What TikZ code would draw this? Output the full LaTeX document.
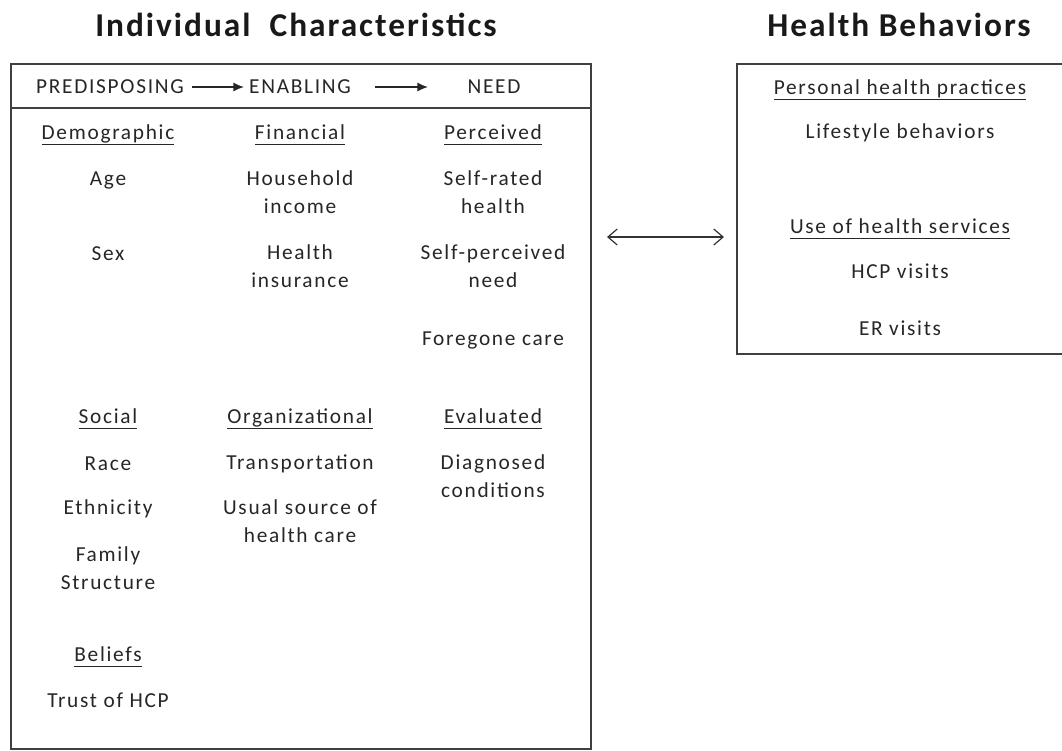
\documentclass[tikz,border=0pt]{standalone}
\usepackage{fontspec}
\setmainfont{Carlito}
\newfontfamily\bodyfont{Carlito}[LetterSpace=8]
\newfontfamily\titlefont{Carlito}[LetterSpace=6]
\newcommand\ulx[1]{\underline{\smash{#1}\vphantom{Ag}}}
\usetikzlibrary{arrows.meta,calc}
\begin{document}
\begin{tikzpicture}[x=0.75pt,y=-0.75pt,
  txt/.style={font=\bodyfont\fontsize{16}{21}\selectfont, text=black!85, align=center, inner sep=0pt},
  hd/.style={txt, yshift=-2.5pt},
  ttl/.style={font=\titlefont\bfseries\fontsize{25}{28}\selectfont, text=black!90, inner sep=0pt},
  boxline/.style={draw=black!75, line width=1.4pt},
  hdrarrow/.style={-{Latex[length=8pt,width=7pt]}, line width=1.2pt, black!85},
  dblarrow/.style={{Straight Barb[length=7pt,width=12pt]}-{Straight Barb[length=7pt,width=12pt]}, line width=0.9pt, black!80}]
\useasboundingbox (0,0) rectangle (1062,750);
% titles
\node[ttl] (t1) at (296,25) {Individual\ \ Characteristics};
\node[ttl] (t2) at (899,25) {Health Behaviors};
% boxes
\node[boxline, minimum width=580*0.75pt, minimum height=685*0.75pt, inner sep=0pt, anchor=north west] (lbox) at (10,63) {};
\node[boxline, minimum width=330*0.75pt, minimum height=290*0.75pt, inner sep=0pt, anchor=north west] (rbox) at (736,63) {};
\coordinate (hl) at (10,108);
\coordinate (hr) at (590,108);
\draw[draw=black!75, line width=1.2pt] (hl) -- (hr);
% header
\node[txt] (pre) at (110,87) {PREDISPOSING};
\node[txt] (ena) at (300,87) {ENABLING};
\node[txt] (need) at (494,87) {NEED};
\coordinate (a1s) at (192,87);
\coordinate (a1e) at (244,87);
\draw[hdrarrow] (a1s) -- (a1e);
\coordinate (a2s) at (375,87);
\coordinate (a2e) at (428,87);
\draw[hdrarrow] (a2s) -- (a2e);
% column 1
\node[hd] (demo) at (108,132) {\ulx{Demographic}};
\node[txt] (age) at (108,180) {Age};
\node[txt] (sex) at (108,254) {Sex};
\node[hd] (soc) at (108,416) {\ulx{Social}};
\node[txt] (race) at (108,464) {Race};
\node[txt] (eth) at (108,509) {Ethnicity};
\node[txt, anchor=north] (fam) at (108,546) {Family\\Structure};
\node[hd] (bel) at (108,654) {\ulx{Beliefs}};
\node[txt] (trust) at (108,700) {Trust of HCP};
% column 2
\node[hd] (fin) at (300,132) {\ulx{Financial}};
\node[txt, anchor=north] (inc) at (300,170) {Household\\income};
\node[txt, anchor=north] (ins) at (300,244) {Health\\insurance};
\node[hd] (org) at (300,416) {\ulx{Organizational}};
\node[txt] (trans) at (300,464) {Transportation};
\node[txt, anchor=north] (usual) at (300,499) {Usual source of\\health care};
% column 3
\node[hd] (perc) at (493,132) {\ulx{Perceived}};
\node[txt, anchor=north] (srh) at (493,170) {Self-rated\\health};
\node[txt, anchor=north] (spn) at (493,244) {Self-perceived\\need};
\node[txt] (fore) at (493,340) {Foregone care};
\node[hd] (eval) at (493,416) {\ulx{Evaluated}};
\node[txt, anchor=north] (diag) at (493,454) {Diagnosed\\conditions};
% right box
\node[hd] (php) at (900,87) {\ulx{Personal health practices}};
\node[txt] (life) at (900,133) {Lifestyle behaviors};
\node[hd] (use) at (900,226) {\ulx{Use of health services}};
\node[txt] (hcp) at (900,271) {HCP visits};
\node[txt] (er) at (900,328) {ER visits};
% double arrow
\coordinate (d1) at (607,237);
\coordinate (d2) at (724,237);
\draw[dblarrow] (d1) -- (d2);
\end{tikzpicture}
\end{document}
